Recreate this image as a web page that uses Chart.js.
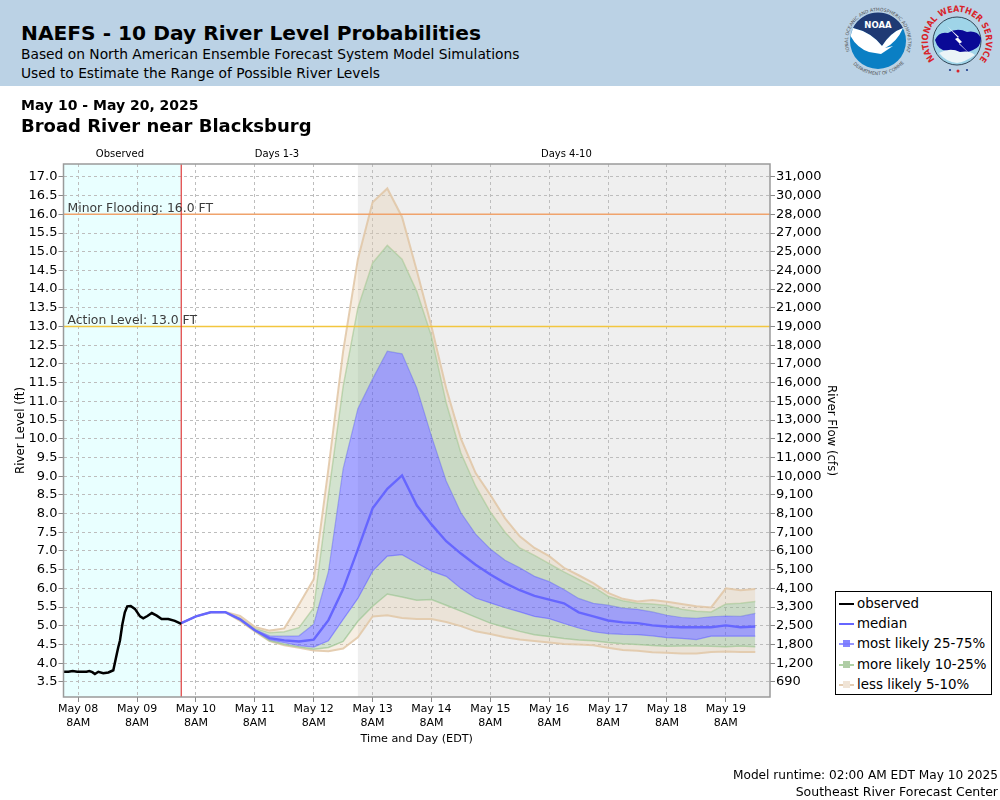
<!DOCTYPE html>
<html lang="en">
<head>
<meta charset="UTF-8" />
<title>NAEFS - 10 Day River Level Probabilities</title>
<script src="https://cdn.jsdelivr.net/npm/chart.js"></script>
<style>
  html, body { margin: 0; padding: 0; background: #fff; }
  body { width: 1000px; height: 800px; position: relative; overflow: hidden; font-family: "DejaVu Sans", sans-serif; color: #000; }
  #chart { position: absolute; left: 0; top: 0; }
  .banner { position: absolute; left: 0; top: 0; width: 1000px; height: 86px; background: #bbd2e5; }
  .txt { position: absolute; white-space: nowrap; }
  #logos { position: absolute; left: 835px; top: 0; }
  .legend { position: absolute; left: 835px; top: 591px; width: 155px; height: 102px; border: 1px solid #000; background: #fff; }
  .row { position: absolute; left: 0; height: 20px; font-size: 13.4px; line-height: 20px; white-space: nowrap; }
  .row span.label { position: absolute; left: 21px; top: 0; }
  .row i { position: absolute; left: 3px; top: 9px; width: 15px; height: 2px; }
  .row b { position: absolute; left: 7px; top: 6px; width: 7px; height: 7px; }
  .foot { position: absolute; right: 2px; white-space: nowrap; }
</style>
</head>
<body>
<canvas id="chart" width="1000" height="800"></canvas>

<div class="banner"></div>
<div class="txt" style="left:21px;top:21px;font-size:20.2px;font-weight:bold">NAEFS - 10 Day River Level Probabilities</div>
<div class="txt" style="left:21px;top:46px;font-size:13.8px">Based on North American Ensemble Forecast System Model Simulations</div>
<div class="txt" style="left:21px;top:65px;font-size:13.8px">Used to Estimate the Range of Possible River Levels</div>
<div class="txt" style="left:21px;top:97px;font-size:14px;font-weight:bold">May 10 - May 20, 2025</div>
<div class="txt" style="left:21px;top:115px;font-size:18px;font-weight:bold">Broad River near Blacksburg</div>

<svg id="logos" width="165" height="86" viewBox="0 0 165 86">
  <defs>
    <path id="noaaTop" d="M 14.7 51 A 30 30 0 1 1 71.3 51" />
    <path id="noaaBottom" d="M 17 63 A 34 34 0 0 0 69 63" />
    <path id="nwsTop" d="M 103.4 63.2 A 29 29 0 1 1 140.6 63.2" />
  </defs>
  <circle cx="43" cy="41" r="28" fill="#0a7fc4" />
  <path d="M 18 28 A 28 28 0 0 1 68 28 Q 56 32 47 46 Q 36 32 18 28 Z" fill="#1f3a74" />
  <path d="M 18 28 Q 36 32 47 46 Q 56 32 68 28 Q 62 42 50 48 L 58 46 L 46 54 L 34 52 Q 22 48 15.5 36 Z" fill="#fff" />
  <text x="43" y="28" text-anchor="middle" font-family="DejaVu Sans" font-weight="bold" font-size="8.5" fill="#fff">NOAA</text>
  <text font-family="DejaVu Sans" font-size="4.6" fill="#555"><textPath href="#noaaTop" startOffset="50%" text-anchor="middle">NATIONAL OCEANIC AND ATMOSPHERIC ADMINISTRATION</textPath></text>
  <text font-family="DejaVu Sans" font-size="4.6" fill="#555"><textPath href="#noaaBottom" startOffset="50%" text-anchor="middle">U.S. DEPARTMENT OF COMMERCE</textPath></text>

  <circle cx="122" cy="41" r="24" fill="#9fd4e8" stroke="#123" stroke-width="0.8" />
  <path d="M 100 40 Q 104 31 113 33 Q 122 27 132 32 Q 142 30 146 38 Q 146 47 138 50 Q 128 55 118 50 Q 104 54 100 40 Z" fill="#0a0a96" />
  <path d="M 104 53 Q 115 47 125 52 Q 135 50 140 55 Q 130 62 122 63 Q 111 62 104 53 Z" fill="#eaf4f7" />
  <path d="M 112 26 L 124 37 L 120 39 L 137 56 L 124 44 L 127 42 Z" fill="#fff" />
  <text font-family="DejaVu Sans Condensed" font-weight="bold" font-size="8.8" fill="#d8232a"><textPath href="#nwsTop" startOffset="50%" text-anchor="middle">NATIONAL WEATHER SERVICE</textPath></text>
  <circle cx="123" cy="71" r="1.5" fill="#d8232a" />
  <circle cx="115" cy="70" r="1.1" fill="#1c3a8a" />
  <circle cx="132" cy="70" r="1.1" fill="#1c3a8a" />
</svg>

<div class="legend" id="legend"></div>
<div class="foot" style="top:768px;font-size:12.15px">Model runtime: 02:00 AM EDT May 10 2025</div>
<div class="foot" style="top:784px;font-size:12.5px">Southeast River Forecast Center</div>

<script>
// hours are counted from May 08 2AM, the left edge of the plot
const hourStart = 0
const hourEnd = 288
const yMin = 3.095
const yMax = 17.345

const dayTicks = [6, 30, 54, 78, 102, 126, 150, 174, 198, 222, 246, 270]
const dayLabels = ['May 08', 'May 09', 'May 10', 'May 11', 'May 12', 'May 13', 'May 14', 'May 15', 'May 16', 'May 17', 'May 18', 'May 19']
const timeLabel = '8AM'

const levelTicks = [17, 16.5, 16, 15.5, 15, 14.5, 14, 13.5, 13, 12.5, 12, 11.5, 11, 10.5, 10, 9.5, 9, 8.5, 8, 7.5, 7, 6.5, 6, 5.5, 5, 4.5, 4, 3.5]
const flowLabels = ['31,000', '30,000', '28,000', '27,000', '25,000', '24,000', '22,000', '21,000', '19,000', '18,000', '17,000', '16,000', '15,000', '13,000', '12,000', '11,000', '10,000', '9,100', '8,100', '7,100', '6,100', '5,100', '4,100', '3,300', '2,500', '1,800', '1,200', '690']

const obsHours = [0, 2, 3.75, 5.6, 7.5, 9.4, 10.5, 11.75, 12.8, 14.2, 16.2, 18.3, 20.3, 21.7, 22.3, 23, 24, 25, 26, 27.4, 29.1, 31.2, 32.5, 34.2, 36, 38, 40, 42.7, 45.4, 48]
const obsLevels = [3.77, 3.77, 3.79, 3.77, 3.77, 3.77, 3.79, 3.76, 3.71, 3.77, 3.73, 3.75, 3.81, 4.24, 4.42, 4.6, 5.04, 5.36, 5.52, 5.53, 5.45, 5.25, 5.2, 5.26, 5.34, 5.27, 5.18, 5.18, 5.13, 5.05]

const fcstHours = [48, 54, 60, 66, 72, 78, 84, 90, 96, 102, 108, 114, 120, 126, 132, 138, 144, 150, 156, 162, 168, 174, 180, 186, 192, 198, 204, 210, 216, 222, 228, 234, 240, 246, 252, 258, 264, 270, 276, 282]
const median = [5.07, 5.25, 5.36, 5.36, 5.17, 4.88, 4.67, 4.61, 4.58, 4.63, 5.15, 5.98, 7.04, 8.14, 8.66, 9.02, 8.22, 7.71, 7.26, 6.93, 6.63, 6.37, 6.14, 5.95, 5.8, 5.7, 5.6, 5.36, 5.25, 5.14, 5.09, 5.07, 5.01, 4.98, 4.96, 4.96, 4.96, 5.01, 4.96, 4.98]
const p95 = [5.07, 5.25, 5.36, 5.37, 5.26, 4.97, 4.87, 4.93, 5.57, 6.24, 9.2, 12.34, 14.8, 16.32, 16.69, 15.93, 14.5, 13.0, 11.35, 10.0, 9.08, 8.5, 7.87, 7.39, 7.08, 6.86, 6.55, 6.35, 6.14, 5.88, 5.72, 5.65, 5.69, 5.64, 5.58, 5.52, 5.49, 6.0, 5.95, 5.98]
const p90 = [5.07, 5.25, 5.36, 5.36, 5.2, 4.93, 4.81, 4.84, 4.95, 5.48, 8.5, 11.4, 13.5, 14.7, 15.17, 14.8, 13.94, 12.74, 10.96, 9.62, 8.73, 8.04, 7.5, 7.08, 6.88, 6.66, 6.44, 6.24, 6.04, 5.79, 5.67, 5.6, 5.58, 5.54, 5.44, 5.39, 5.37, 5.58, 5.6, 5.65]
const p75 = [5.07, 5.25, 5.36, 5.36, 5.18, 4.9, 4.73, 4.72, 4.73, 5.04, 6.45, 9.2, 10.8, 11.6, 12.34, 12.27, 11.36, 10.07, 8.87, 8.02, 7.45, 7.05, 6.75, 6.55, 6.32, 6.18, 5.97, 5.73, 5.6, 5.55, 5.47, 5.44, 5.37, 5.28, 5.22, 5.2, 5.24, 5.26, 5.25, 5.33]
const p25 = [5.07, 5.25, 5.36, 5.36, 5.16, 4.87, 4.63, 4.55, 4.47, 4.43, 4.6, 5.17, 5.73, 6.46, 6.86, 6.9, 6.68, 6.46, 6.32, 6.0, 5.74, 5.61, 5.48, 5.37, 5.25, 5.19, 5.06, 4.94, 4.84, 4.79, 4.77, 4.76, 4.73, 4.68, 4.66, 4.63, 4.72, 4.72, 4.72, 4.72]
const p10 = [5.07, 5.25, 5.36, 5.36, 5.15, 4.86, 4.6, 4.5, 4.43, 4.37, 4.42, 4.58, 5.12, 5.52, 5.85, 5.77, 5.68, 5.7, 5.55, 5.39, 5.23, 5.07, 4.96, 4.85, 4.76, 4.71, 4.66, 4.62, 4.6, 4.55, 4.52, 4.5, 4.47, 4.45, 4.46, 4.46, 4.45, 4.44, 4.46, 4.44]
const p05 = [5.07, 5.25, 5.36, 5.36, 5.13, 4.85, 4.59, 4.48, 4.41, 4.34, 4.32, 4.39, 4.69, 5.25, 5.28, 5.21, 5.18, 5.18, 5.1, 4.99, 4.85, 4.78, 4.69, 4.63, 4.59, 4.55, 4.51, 4.5, 4.48, 4.41, 4.35, 4.33, 4.29, 4.28, 4.26, 4.26, 4.3, 4.31, 4.3, 4.3]

const minorLevel = 16
const actionLevel = 13
const runtimeHour = 48
const day4Hour = 120

const sectionNames = ['Observed', 'Days 1-3', 'Days 4-10']
const sectionCentres = [23, 87, 205]

const legendNames = ['observed', 'median', 'most likely 25-75%', 'more likely 10-25%', 'less likely 5-10%']

const blueLine = 'rgba(102,102,255,1)'
const blueFill = 'rgba(80,80,255,0.5)'
const blueEdge = 'rgba(110,110,255,0.6)'
const greenFill = 'rgba(146,184,136,0.4)'
const greenEdge = 'rgba(170,205,160,0.8)'
const tanFill = 'rgba(230,205,175,0.35)'
const tanEdge = 'rgba(225,198,165,0.85)'

function pts(xs, ys) {
  return xs.map((x, i) => ({ x: x, y: ys[i] }))
}

function band(label, ys, edge, fillColor, width) {
  return {
    label: label,
    data: pts(fcstHours, ys),
    borderColor: edge,
    borderWidth: width,
    backgroundColor: fillColor,
    fill: fillColor ? '+1' : false
  }
}

function hline(level, color) {
  return {
    label: 'level ' + level,
    data: pts([hourStart, hourEnd], [level, level]),
    borderColor: color,
    borderWidth: 1.5,
    fill: false
  }
}

// shaded backgrounds, section captions and the flood level captions
const decorate = {
  id: 'decorate',
  beforeDatasetsDraw(chart) {
    const c = chart.ctx, a = chart.chartArea, x = chart.scales.x
    c.save()
    c.globalCompositeOperation = 'destination-over'
    c.fillStyle = '#e9ffff'
    c.fillRect(a.left, a.top, x.getPixelForValue(runtimeHour) - a.left, a.height)
    c.fillStyle = '#efefef'
    c.fillRect(x.getPixelForValue(day4Hour), a.top, a.right - x.getPixelForValue(day4Hour), a.height)
    c.restore()
  },
  afterDraw(chart) {
    const c = chart.ctx, a = chart.chartArea, x = chart.scales.x, y = chart.scales.y
    c.save()
    c.strokeStyle = '#9a9a9a'
    c.lineWidth = 1.5
    c.strokeRect(a.left, a.top, a.width, a.height)
    c.fillStyle = '#000'
    c.font = '10px "DejaVu Sans"'
    c.textAlign = 'center'
    c.textBaseline = 'middle'
    sectionNames.forEach((name, i) => {
      c.fillText(name, x.getPixelForValue(sectionCentres[i]), 154)
    })
    c.fillStyle = '#3c3c3c'
    c.font = '12.4px "DejaVu Sans"'
    c.textAlign = 'left'
    c.textBaseline = 'alphabetic'
    c.fillText('Minor Flooding: ' + minorLevel.toFixed(1) + ' FT', a.left + 4, y.getPixelForValue(minorLevel) - 2.5)
    c.fillText('Action Level: ' + actionLevel.toFixed(1) + ' FT', a.left + 4, y.getPixelForValue(actionLevel) - 2.5)
    c.restore()
  }
}

// legend
const legendLine = ['#000', blueLine, 'rgba(150,150,255,1)', 'rgba(175,210,165,1)', 'rgba(228,205,178,1)']
const legendBox = [null, null, 'rgba(120,120,255,0.9)', 'rgba(175,205,165,1)', 'rgba(240,228,214,1)']
const legendEl = document.getElementById('legend')
legendNames.forEach(function (name, i) {
  const row = document.createElement('div')
  row.className = 'row'
  row.style.top = (2 + i * 20.2) + 'px'
  row.style.width = '153px'
  let html = '<i style="background:' + legendLine[i] + '"></i>'
  if (legendBox[i]) html += '<b style="background:' + legendBox[i] + '"></b>'
  row.innerHTML = html + '<span class="label">' + name + '</span>'
  legendEl.appendChild(row)
})

new Chart(document.getElementById('chart'), {
  type: 'line',
  plugins: [decorate],
  data: {
    datasets: [
      { label: 'observed', data: pts(obsHours, obsLevels), borderColor: '#000', borderWidth: 2.5, fill: false },
      { label: 'median', data: pts(fcstHours, median), borderColor: blueLine, borderWidth: 2.4, fill: false },
      { label: 'runtime', data: pts([runtimeHour, runtimeHour], [yMin, yMax]), borderColor: '#e23b3b', borderWidth: 1.2, fill: false },
      hline(minorLevel, '#f0a36c'),
      hline(actionLevel, '#f3c63f'),
      band('p95', p95, tanEdge, tanFill, 2),
      band('p90', p90, greenEdge, greenFill, 1.5),
      band('p75', p75, blueEdge, blueFill, 1.2),
      band('p25', p25, blueEdge, greenFill, 1.2),
      band('p10', p10, greenEdge, tanFill, 1.5),
      band('p05', p05, tanEdge, null, 2)
    ]
  },
  options: {
    responsive: false,
    animation: false,
    elements: { point: { radius: 0 }, line: { tension: 0 } },
    layout: { padding: { left: 13.5, right: 162, top: 164, bottom: 52 } },
    plugins: { legend: { display: false }, tooltip: { enabled: false } },
    scales: {
      x: {
        type: 'linear',
        min: hourStart,
        max: hourEnd,
        afterFit: s => { s.height = 51 },
        afterBuildTicks: s => { s.ticks = dayTicks.map(v => ({ value: v })) },
        grid: { color: '#bdbdbd', tickColor: '#888', tickLength: 5 },
        border: { display: false, dash: [3, 3] },
        ticks: {
          autoSkip: false,
          maxRotation: 0,
          padding: 1,
          color: '#000',
          font: { family: 'DejaVu Sans', size: 11, lineHeight: 1.2 },
          callback: (v, i) => [dayLabels[i], timeLabel]
        },
        title: { display: true, text: 'Time and Day (EDT)', color: '#000', font: { family: 'DejaVu Sans', size: 11.2 }, padding: { top: 2, bottom: 2 } }
      },
      y: {
        type: 'linear',
        position: 'left',
        min: yMin,
        max: yMax,
        afterFit: s => { s.width = 50 },
        afterBuildTicks: s => { s.ticks = levelTicks.map(v => ({ value: v })) },
        grid: { color: '#bdbdbd', tickColor: '#888', tickLength: 5 },
        border: { display: false, dash: [3, 3] },
        ticks: {
          autoSkip: false,
          padding: 1,
          color: '#000',
          font: { family: 'DejaVu Sans', size: 13 },
          callback: v => v.toFixed(1)
        },
        title: { display: true, text: 'River Level (ft)', color: '#000', font: { family: 'DejaVu Sans', size: 11.8 }, padding: { top: 0, bottom: 0 } }
      },
      y2: {
        type: 'linear',
        position: 'right',
        min: yMin,
        max: yMax,
        afterFit: s => { s.width = 68 },
        afterBuildTicks: s => { s.ticks = levelTicks.map(v => ({ value: v })) },
        grid: { drawOnChartArea: false, tickColor: '#888', tickLength: 5 },
        border: { display: false },
        ticks: {
          autoSkip: false,
          padding: 1,
          color: '#000',
          font: { family: 'DejaVu Sans', size: 13 },
          callback: (v, i) => flowLabels[i]
        },
        title: { display: true, text: 'River Flow (cfs)', color: '#000', font: { family: 'DejaVu Sans', size: 11.8 }, padding: { top: 0, bottom: 0 } }
      }
    }
  }
})
</script>
</body>
</html>
